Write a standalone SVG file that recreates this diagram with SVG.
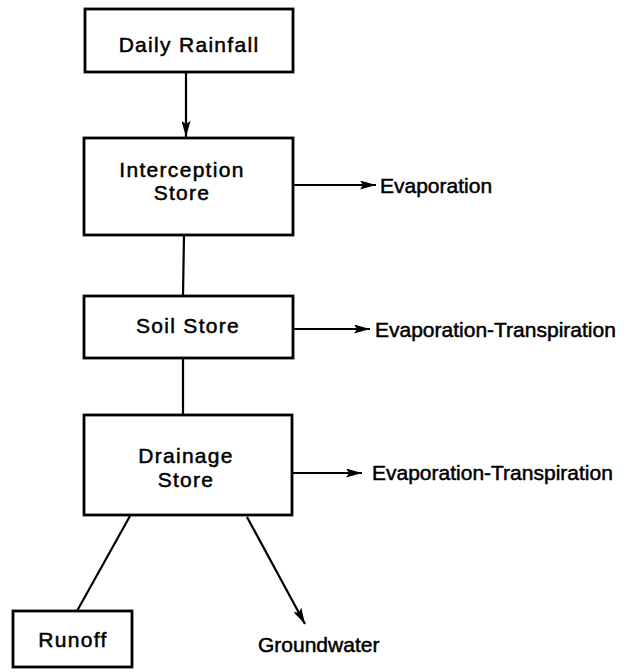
<svg xmlns="http://www.w3.org/2000/svg" width="624" height="672" viewBox="0 0 624 672">
<defs>
<style>
.box{fill:#fff;stroke:#000;stroke-width:2.8}
.ln{stroke:#000;stroke-width:2.2;fill:none}
.t{font-family:"Liberation Sans",Arial,sans-serif;font-size:21px;fill:#000;stroke:#000;stroke-width:0.5;letter-spacing:1.3px}
.o{font-family:"Liberation Sans",Arial,sans-serif;font-size:21px;fill:#000;stroke:#000;stroke-width:0.5}
.c{text-anchor:middle}
</style>
<marker id="ah" viewBox="0 0 16 9" refX="16" refY="4.5" markerWidth="16" markerHeight="9" markerUnits="userSpaceOnUse" orient="auto">
<path d="M0,0 L16,4.5 L0,9 L3,4.5 Z" fill="#000"/>
</marker>
</defs>
<rect width="624" height="672" fill="#fff"/>
<g id="connectors">
<line class="ln" x1="186" y1="72" x2="186" y2="137" marker-end="url(#ah)"/>
<line class="ln" x1="293" y1="185" x2="376" y2="185" marker-end="url(#ah)"/>
<line class="ln" x1="184" y1="235" x2="183" y2="296"/>
<line class="ln" x1="293" y1="329" x2="370" y2="329" marker-end="url(#ah)"/>
<line class="ln" x1="183" y1="358" x2="183" y2="415"/>
<line class="ln" x1="292" y1="473" x2="362" y2="473" marker-end="url(#ah)"/>
<line class="ln" x1="130" y1="516" x2="77" y2="611"/>
<line class="ln" x1="247" y1="517" x2="305" y2="624" marker-end="url(#ah)"/>
</g>
<g id="daily-rainfall">
<rect class="box" x="85" y="9" width="208" height="63"/>
<text class="t c" x="189" y="52">Daily Rainfall</text>
</g>
<g id="interception-store">
<rect class="box" x="84" y="138" width="209" height="97"/>
<text class="t c" x="182" y="177">Interception</text>
<text class="t c" x="182" y="200">Store</text>
</g>
<g id="evaporation">
<text class="o" x="380" y="193">Evaporation</text>
</g>
<g id="soil-store">
<rect class="box" x="84" y="296" width="209" height="62"/>
<text class="t c" x="188" y="333">Soil Store</text>
</g>
<g id="evapotranspiration-1">
<text class="o" x="375" y="337">Evaporation-Transpiration</text>
</g>
<g id="drainage-store">
<rect class="box" x="84" y="415" width="208" height="100"/>
<text class="t c" x="186" y="463">Drainage</text>
<text class="t c" x="186" y="487">Store</text>
</g>
<g id="evapotranspiration-2">
<text class="o" x="372" y="480">Evaporation-Transpiration</text>
</g>
<g id="runoff">
<rect class="box" x="13" y="611" width="119" height="56"/>
<text class="t c" x="73" y="647">Runoff</text>
</g>
<g id="groundwater">
<text class="o" x="258" y="652">Groundwater</text>
</g>
</svg>
